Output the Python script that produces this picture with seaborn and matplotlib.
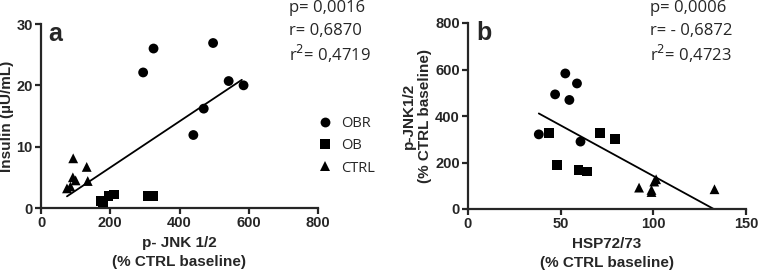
import matplotlib
matplotlib.use("Agg")
import matplotlib.pyplot as plt
import numpy as np
import pandas as pd
import seaborn as sns

# panel a: p-JNK 1/2 vs insulin
a_obr_x = [295, 325, 497, 440, 470, 542, 585]
a_obr_y = [22.1, 26.0, 26.9, 11.9, 16.2, 20.7, 20.0]
a_ob_x = [172, 180, 195, 210, 310, 325]
a_ob_y = [1.2, 1.0, 1.9, 2.2, 2.0, 1.9]
a_ctrl_x = [75, 85, 92, 93, 100, 132, 135]
a_ctrl_y = [3.2, 3.5, 5.0, 8.1, 4.5, 6.7, 4.4]
a_fit_x = [75, 580]
a_fit_y = [1.9, 20.9]
a_stats = ["p= 0,0016", "r= 0,6870", "r$^2$= 0,4719"]

# panel b: HSP72/73 vs p-JNK1/2
b_obr_x = [38.2, 52.5, 47.0, 58.8, 54.7, 60.7]
b_obr_y = [321, 583, 493, 540, 469, 290]
b_ob_x = [43.5, 47.9, 59.6, 64.2, 71.2, 79.3]
b_ob_y = [326, 190, 169, 161, 326, 301]
b_ctrl_x = [92.3, 99.0, 99.0, 100.5, 101.5, 133.0]
b_ctrl_y = [92, 82, 73, 118, 128, 85]
b_fit_x = [38.2, 132.6]
b_fit_y = [411, 0]
b_stats = ["p= 0,0006", "r= - 0,6872", "r$^2$= 0,4723"]

groups = ["OBR", "OB", "CTRL"]
markers = {"OBR": "o", "OB": "s", "CTRL": "^"}


def make_df(obr_x, obr_y, ob_x, ob_y, ctrl_x, ctrl_y):
    rows = []
    for g, xs, ys in zip(groups, [obr_x, ob_x, ctrl_x], [obr_y, ob_y, ctrl_y]):
        for x, y in zip(xs, ys):
            rows.append({"x": x, "y": y, "group": g})
    return pd.DataFrame(rows)


sns.set_style("ticks")
plt.rcParams["font.family"] = ["Liberation Sans", "DejaVu Sans"]

W, H = 761, 272
fig = plt.figure(figsize=(W / 100, H / 100), dpi=100)


def px_axes(left, top, right, bottom):
    return fig.add_axes([left / W, 1 - bottom / H, (right - left) / W, (bottom - top) / H])


ax_a = px_axes(41, 24, 318, 208)
ax_b = px_axes(468, 23, 746, 209)

df_a = make_df(a_obr_x, a_obr_y, a_ob_x, a_ob_y, a_ctrl_x, a_ctrl_y)
df_b = make_df(b_obr_x, b_obr_y, b_ob_x, b_ob_y, b_ctrl_x, b_ctrl_y)

for ax, df, fx, fy in [(ax_a, df_a, a_fit_x, a_fit_y), (ax_b, df_b, b_fit_x, b_fit_y)]:
    sns.scatterplot(data=df, x="x", y="y", style="group", markers=markers,
                    color="black", s=50, edgecolor="black", linewidth=0,
                    legend=(ax is ax_a), ax=ax, clip_on=False, zorder=3)
    ax.plot(fx, fy, color="black", lw=1.3)
    for side in ["top", "right"]:
        ax.spines[side].set_visible(False)
    for side in ["left", "bottom"]:
        ax.spines[side].set_linewidth(1.6)
    ax.tick_params(width=1.6, length=4, labelsize=10.5, pad=2)

ax_a.set_xlim(0, 800)
ax_a.set_ylim(0, 30)
ax_a.set_xticks([0, 200, 400, 600, 800])
ax_a.set_yticks([0, 10, 20, 30])
ax_a.set_xlabel("p- JNK 1/2\n(% CTRL baseline)", fontsize=11, fontweight="bold",
                labelpad=4, linespacing=1.45)
ax_a.set_ylabel("Insulin (µU/mL)", fontsize=11, fontweight="bold", labelpad=2)

ax_b.set_xlim(0, 150)
ax_b.set_ylim(0, 800)
ax_b.set_xticks([0, 50, 100, 150])
ax_b.set_yticks([0, 200, 400, 600, 800])
ax_b.set_xlabel("HSP72/73\n(% CTRL baseline)", fontsize=11, fontweight="bold",
                labelpad=4, linespacing=1.45)
ax_b.set_ylabel("p-JNK1/2\n(% CTRL baseline)", fontsize=11, fontweight="bold",
                labelpad=2, linespacing=1.2)

for ax in [ax_a, ax_b]:
    for lab in ax.get_xticklabels() + ax.get_yticklabels():
        lab.set_fontweight("bold")

# panel letters
fig.text(48 / W, 1 - 34 / H, "a", fontsize=18, fontweight="bold", va="center")
fig.text(476 / W, 1 - 33 / H, "b", fontsize=18, fontweight="bold", va="center")

# stats text
for x0, stats in [(289, a_stats), (650, b_stats)]:
    for i, s in enumerate(stats):
        fig.text(x0 / W, 1 - (8 + 23 * i) / H, s, fontsize=12,
                 family=["Open Sans", "DejaVu Sans"], va="center")

# legend
leg = ax_a.legend(loc="upper left", bbox_to_anchor=(318 / W, 1 - 116 / H),
                  bbox_transform=fig.transFigure, frameon=False,
                  prop={"family": ["Open Sans", "DejaVu Sans"], "size": 10.5},
                  handlelength=1.0, handletextpad=0.6, labelspacing=0.5,
                  borderaxespad=0, borderpad=0)
for h in leg.legend_handles:
    h.set_color("black")

fig.savefig("out.png", dpi=100)
